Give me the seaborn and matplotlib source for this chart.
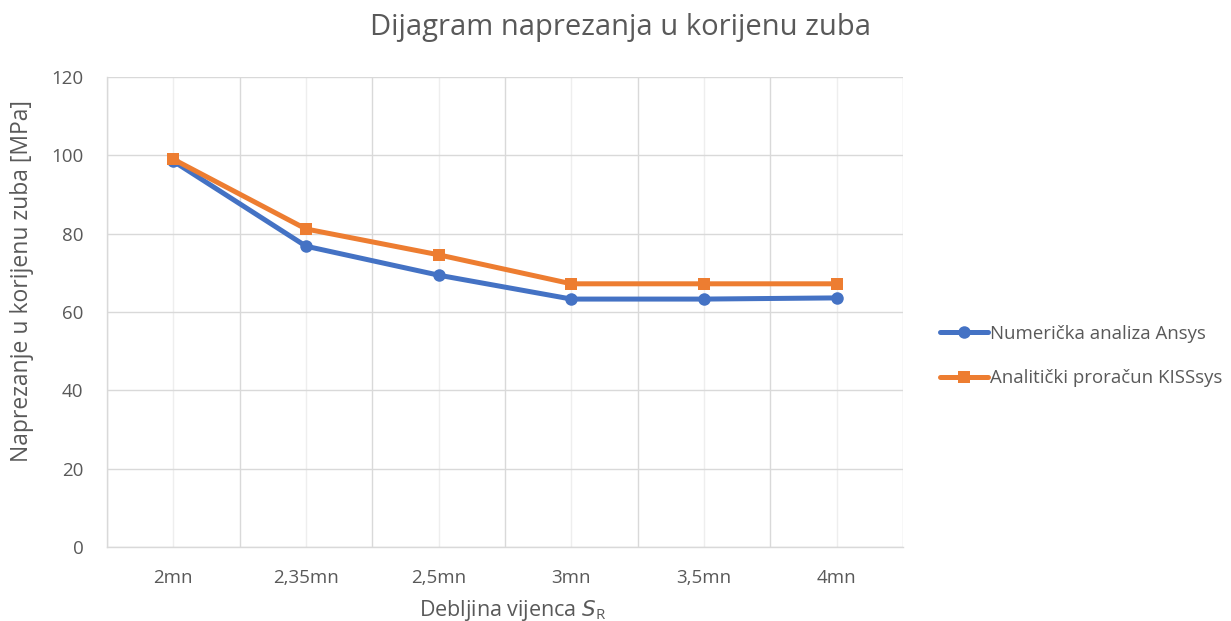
import matplotlib
matplotlib.use("Agg")
import matplotlib.pyplot as plt
import seaborn as sns
import pandas as pd
from matplotlib.ticker import FixedLocator

categories = ["2mn", "2,35mn", "2,5mn", "3mn", "3,5mn", "4mn"]
ansys = [98.5, 76.8, 69.4, 63.3, 63.3, 63.6]
kisssys = [99.0, 81.2, 74.6, 67.2, 67.2, 67.2]
series_names = ["Numerička analiza Ansys", "Analitički proračun KISSsys"]

df = pd.DataFrame({
    "kat": categories * 2,
    "val": ansys + kisssys,
    "serija": [series_names[0]] * len(categories) + [series_names[1]] * len(categories),
})

sns.set_theme(style="white")
plt.rcParams["font.family"] = ["Open Sans", "DejaVu Sans"]
text_col = "#595959"

fig = plt.figure(figsize=(12.31, 6.21), dpi=100)
ax = fig.add_axes([107 / 1231, 1 - 547 / 621, (903 - 107) / 1231, (547 - 77) / 621])

palette = {series_names[0]: "#4472C4", series_names[1]: "#ED7D31"}
sns.lineplot(data=df, x="kat", y="val", hue="serija", style="serija",
             markers={series_names[0]: "o", series_names[1]: "s"}, dashes=False,
             palette=palette, linewidth=3.6, markersize=9, markeredgewidth=0,
             sort=False, ax=ax, zorder=3)

ax.set_xlim(-0.5, len(categories) - 0.5)
ax.set_ylim(0, 120)
ax.set_yticks(range(0, 121, 20))
ax.xaxis.set_minor_locator(FixedLocator([i - 0.5 for i in range(len(categories) + 1)]))
ax.grid(True, which="major", axis="y", color="#d9d9d9", linewidth=1)
ax.grid(True, which="major", axis="x", color="#eeeeee", linewidth=1)
ax.grid(True, which="minor", axis="x", color="#d9d9d9", linewidth=1)
ax.tick_params(axis="both", which="both", length=0, labelsize=13.5, labelcolor=text_col)
ax.tick_params(axis="x", pad=16)
ax.tick_params(axis="y", pad=17)
for s in ["top", "right"]:
    ax.spines[s].set_visible(False)
for s in ["left", "bottom"]:
    ax.spines[s].set_color("#d9d9d9")
    ax.spines[s].set_linewidth(1)

ax.set_xlabel(r"Debljina vijenca $\mathit{S}_{\mathregular{R}}$", fontsize=15.5, color=text_col, labelpad=4)
ax.xaxis.set_label_coords(0.51, -0.108)
ax.xaxis.label.set_va("top")
ax.set_ylabel("Naprezanje u korijenu zuba [MPa]", fontsize=16.5, color=text_col)
ax.yaxis.set_label_coords(-0.092, 0.565)

fig.text(0.504, 0.955, "Dijagram naprezanja u korijenu zuba", ha="center", va="center",
         fontsize=21, color=text_col)

leg = ax.legend(loc="center left", bbox_to_anchor=(923 / 1231, 1 - 356 / 621), bbox_transform=fig.transFigure,
                frameon=False, fontsize=13.4, handlelength=2.6, handletextpad=0.1, labelspacing=1.45,
                labelcolor=text_col)
for h in leg.legend_handles:
    h.set_linewidth(3.6)

fig.savefig("out.png", dpi=100)
